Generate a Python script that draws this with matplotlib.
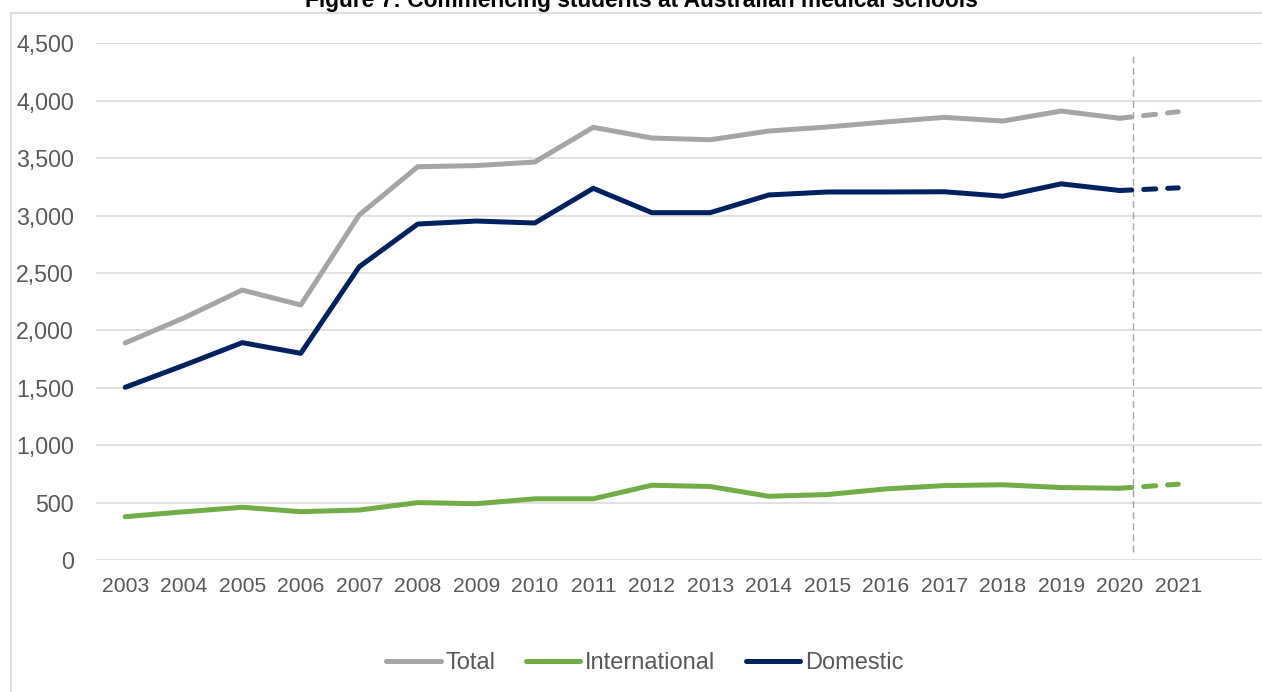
import matplotlib
matplotlib.use('Agg')
import matplotlib.pyplot as plt
from matplotlib.lines import Line2D
from matplotlib.ticker import FuncFormatter

years = list(range(2003, 2022))
total = [1890, 2108, 2351, 2221, 3005, 3425, 3435, 3466, 3768, 3675, 3660, 3736,
         3771, 3815, 3855, 3823, 3910, 3847, 3904]
international = [377, 420, 459, 421, 435, 500, 490, 533, 533, 651, 640, 555,
                 570, 619, 648, 655, 631, 625, 660]
domestic = [1504, 1695, 1893, 1800, 2554, 2926, 2952, 2935, 3237, 3025, 3025, 3179,
            3205, 3205, 3207, 3168, 3276, 3218, 3241]

series_names = ["Total", "International", "Domestic"]
colors = {"Total": "#A5A5A5", "International": "#70AD47", "Domestic": "#002060"}
title = "Figure 7: Commencing students at Australian medical schools"
yticks = [0, 500, 1000, 1500, 2000, 2500, 3000, 3500, 4000, 4500]

W, H = 1262, 692
fig = plt.figure(figsize=(W / 100, H / 100), dpi=100)
plt.rcParams['font.family'] = ['Liberation Sans', 'DejaVu Sans']

left_px, right_px, top_px, bot_px = 96, 1266, 43.3, 560
ax = fig.add_axes([left_px / W, 1 - bot_px / H, (right_px - left_px) / W, (bot_px - top_px) / H])

data = {"Total": total, "International": international, "Domestic": domestic}
lw = 3.6
for name in series_names:
    vals = data[name]
    ax.plot(years[:-1], vals[:-1], color=colors[name], lw=lw,
            solid_capstyle='round', solid_joinstyle='round', zorder=3)
    ln, = ax.plot(years[-2:], vals[-2:], color=colors[name], lw=lw,
                  linestyle=(0, (2.4, 2.4)), zorder=3)
    ln.set_dash_capstyle('round')

ax.set_xlim(2002.5, 2022.5)
ax.set_ylim(0, 4500)
ax.set_yticks(yticks)
ax.set_xticks(years)
ax.yaxis.set_major_formatter(FuncFormatter(lambda v, p: f"{int(v):,}"))
ax.grid(axis='y', color='#D9D9D9', lw=1.1, zorder=0)
ax.set_axisbelow(True)
for s in ax.spines.values():
    s.set_visible(False)
ax.tick_params(axis='both', length=0)
ax.tick_params(axis='y', labelsize=16.7, labelcolor='#595959', pad=16)
ax.tick_params(axis='x', labelsize=15.2, labelcolor='#595959', pad=12)

# vertical dashed separator
ax.axvline(2020.23, ymin=0.015, ymax=0.98, color='#A6A6A6', lw=1.0,
           linestyle=(0, (5, 3)), zorder=2)

# frame lines
fig.add_artist(Line2D([11 / W, 1], [1 - 13 / H, 1 - 13 / H], color='#D9D9D9', lw=1.2,
                      transform=fig.transFigure))
fig.add_artist(Line2D([11 / W, 11 / W], [0, 1 - 13 / H], color='#D9D9D9', lw=1.2,
                      transform=fig.transFigure))

# title (fit width ~677px)
t = fig.text(641 / W, 1 - 7 / H, title, ha='center', va='baseline',
             fontsize=15, fontweight='bold', color='black')
fig.canvas.draw()
r = fig.canvas.get_renderer()
wpx = t.get_window_extent(r).width
t.set_fontsize(15 * 677 / wpx)

handles = [Line2D([], [], color=colors[n], lw=lw, solid_capstyle='round') for n in series_names]
leg = fig.legend(handles, series_names, loc='center', bbox_to_anchor=(645 / W, 1 - 663 / H),
                 ncol=3, frameon=False, fontsize=17, handlelength=2.3, handletextpad=0.2,
                 columnspacing=1.3, labelcolor='#595959')

fig.savefig('out.png', dpi=100)
